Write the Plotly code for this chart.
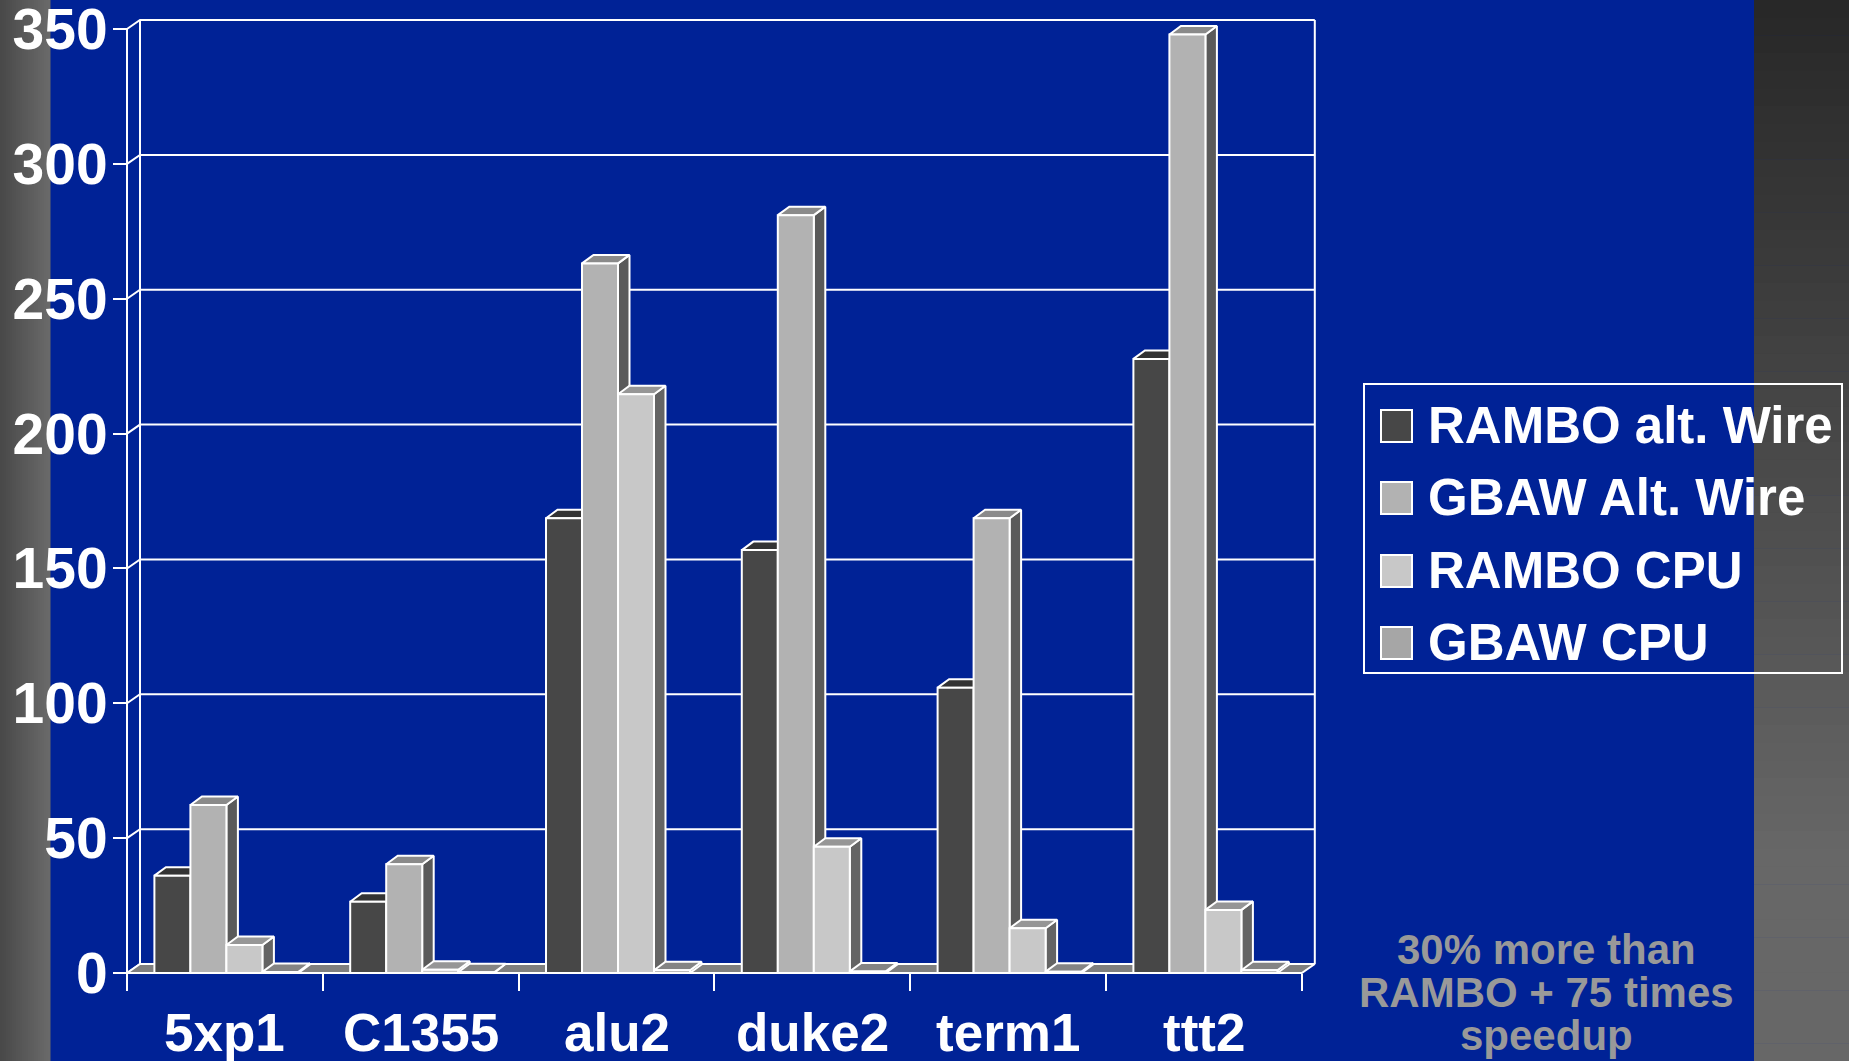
import plotly.graph_objects as go

# ---- data -------------------------------------------------------------
categories = ["5xp1", "C1355", "alu2", "duke2", "term1", "ttt2"]
series_names = ["RAMBO alt. Wire", "GBAW Alt. Wire", "RAMBO CPU", "GBAW CPU"]
rambo_alt_wire = [36.1, 26.4, 168.6, 156.8, 105.8, 227.7]
gbaw_alt_wire = [62.3, 40.3, 263.1, 281.0, 168.6, 348.0]
rambo_cpu = [10.4, 1.2, 214.6, 46.8, 16.6, 23.4]
gbaw_cpu = [0.4, 0.3, 1.0, 0.6, 0.5, 1.0]
y_ticks = [0, 50, 100, 150, 200, 250, 300, 350]
note_lines = ["30% more than", "RAMBO + 75 times", "speedup"]

series_values = [rambo_alt_wire, gbaw_alt_wire, rambo_cpu, gbaw_cpu]

# ---- styling ----------------------------------------------------------
BLUE = "#002296"
WHITE = "#ffffff"
FONT = "Liberation Sans"
front_colors = ["#474747", "#b2b2b2", "#c8c8c8", "#a6a6a6"]
top_colors = ["#333333", "#8a8a8a", "#969696", "#848484"]
side_colors = ["#2a2a2a", "#5a5a5a", "#646464", "#5c5c5c"]
floor_color = "#7f7f7f"

FIG_W, FIG_H = 1849, 1061
ML, MR, MT, MB = 117, 519, 10, 76
PX_PER_CAT = 195.8        # horizontal pixels per category slot
PX_PER_UNIT = 2.697       # vertical pixels per value unit
X_FRONT_PX = 127          # pixel column of the front value axis
Y_ZERO_PX = 973           # pixel row of the front floor edge

PAPER_W = FIG_W - ML - MR
PAPER_H = FIG_H - MT - MB

x_range = [-0.5 - (X_FRONT_PX - ML) / PX_PER_CAT,
           -0.5 + (FIG_W - MR - X_FRONT_PX) / PX_PER_CAT]
y_range = [-(FIG_H - MB - Y_ZERO_PX) / PX_PER_UNIT,
           (Y_ZERO_PX - MT) / PX_PER_UNIT]

# oblique depth of the chart box and of the bars (converted to data units)
wall_dx, wall_dy = 13 / PX_PER_CAT, 9 / PX_PER_UNIT
bar_dx, bar_dy = 11.5 / PX_PER_CAT, 8.5 / PX_PER_UNIT
bar_w = 36 / PX_PER_CAT
group_offset = -70.5 / PX_PER_CAT


def paper_x(px):
    return (px - ML) / PAPER_W


def paper_y(py):
    return (FIG_H - MB - py) / PAPER_H


n_cat = len(categories)
x_left, x_right = -0.5, n_cat - 0.5

fig = go.Figure()

# ---- box: back wall gridlines, side-wall diagonals, wall edges --------
wx, wy = [], []
for v in y_ticks:
    wx += [x_left, x_left + wall_dx, x_right + wall_dx, None]
    wy += [v, v + wall_dy, v + wall_dy, None]
top = y_ticks[-1]
wx += [x_left, x_left, None]
wy += [0, top, None]
wx += [x_left + wall_dx, x_left + wall_dx, None]
wy += [wall_dy, top + wall_dy, None]
wx += [x_right + wall_dx, x_right + wall_dx, None]
wy += [wall_dy, top + wall_dy, None]
fig.add_trace(go.Scatter(x=wx, y=wy, mode="lines",
                         line=dict(color=WHITE, width=2),
                         hoverinfo="skip", showlegend=False))

# floor
fig.add_trace(go.Scatter(
    x=[x_left, x_right, x_right + wall_dx, x_left + wall_dx, x_left],
    y=[0, 0, wall_dy, wall_dy, 0],
    mode="lines", fill="toself", fillcolor=floor_color,
    line=dict(color=WHITE, width=2), hoverinfo="skip", showlegend=False))


def face(xs, ys, color):
    fig.add_trace(go.Scatter(
        x=xs + [xs[0]], y=ys + [ys[0]], mode="lines", fill="toself",
        fillcolor=color, line=dict(color=WHITE, width=2),
        hoverinfo="skip", showlegend=False))


# ---- 3-D bars, drawn left to right so nearer faces overlap ------------
for ci in range(n_cat):
    for si, vals in enumerate(series_values):
        v = vals[ci]
        x0 = ci + group_offset + si * bar_w
        x1 = x0 + bar_w
        # right side face
        face([x1, x1 + bar_dx, x1 + bar_dx, x1],
             [0, bar_dy, v + bar_dy, v], side_colors[si])
        # top face
        face([x0, x1, x1 + bar_dx, x0 + bar_dx],
             [v, v, v + bar_dy, v + bar_dy], top_colors[si])
        # front face
        face([x0, x1, x1, x0], [0, 0, v, v], front_colors[si])

# ---- background bands, legend box ------------------------------------
shapes = []


def hex_gray(g):
    g = max(0, min(255, int(round(g))))
    return "#{0:02x}{0:02x}{0:02x}".format(g)


# left band: horizontal gradient
n_left = 25
for i in range(n_left):
    xa = 50 * i / n_left
    xb = 50 * (i + 1) / n_left
    g = 0x48 + (0x6a - 0x48) * (i + 0.5) / n_left
    shapes.append(dict(type="rect", xref="paper", yref="paper",
                       x0=paper_x(xa), x1=paper_x(xb + 0.5),
                       y0=paper_y(FIG_H), y1=paper_y(0),
                       fillcolor=hex_gray(g), line=dict(width=0),
                       layer="below"))

# right band: vertical gradient
n_right = 60
for i in range(n_right):
    ya = FIG_H * i / n_right
    yb = FIG_H * (i + 1) / n_right
    t = min(1.0, ((ya + yb) / 2) / 860)
    g = 0x27 + (0x67 - 0x27) * t
    shapes.append(dict(type="rect", xref="paper", yref="paper",
                       x0=paper_x(1754), x1=paper_x(FIG_W),
                       y0=paper_y(yb + 0.5), y1=paper_y(ya),
                       fillcolor=hex_gray(g), line=dict(width=0),
                       layer="below"))

# legend frame
shapes.append(dict(type="rect", xref="paper", yref="paper",
                   x0=paper_x(1364), x1=paper_x(1842),
                   y0=paper_y(673), y1=paper_y(384),
                   fillcolor="rgba(0,0,0,0)", line=dict(color=WHITE, width=2)))

annotations = []
row_y = [426, 498, 571, 643]
for si, name in enumerate(series_names):
    cy = row_y[si]
    shapes.append(dict(type="rect", xref="paper", yref="paper",
                       x0=paper_x(1381), x1=paper_x(1412),
                       y0=paper_y(cy + 16), y1=paper_y(cy - 16),
                       fillcolor=front_colors[si],
                       line=dict(color=WHITE, width=2)))
    annotations.append(dict(
        text=name, xref="paper", yref="paper",
        x=paper_x(1426), y=paper_y(cy - 0.5), xanchor="left", yanchor="middle",
        showarrow=False,
        font=dict(family=FONT, size=51, weight="bold", color=WHITE)))

# category labels under each group
for ci, name in enumerate(categories):
    annotations.append(dict(
        text=name, xref="x", yref="paper",
        x=ci, y=paper_y(1032), xanchor="center", yanchor="middle",
        showarrow=False,
        font=dict(family=FONT, size=53, weight="bold", color=WHITE)))

# side note
note_y = [949, 992, 1035]
for line_text, cy in zip(note_lines, note_y):
    annotations.append(dict(
        text=line_text, xref="paper", yref="paper",
        x=paper_x(1546), y=paper_y(cy), xanchor="center", yanchor="middle",
        showarrow=False,
        font=dict(family=FONT, size=42, weight="bold", color="#999999")))

axis_pos_x = paper_x(X_FRONT_PX)
axis_pos_y = paper_y(Y_ZERO_PX)

fig.update_layout(
    width=FIG_W, height=FIG_H,
    margin=dict(l=ML, r=MR, t=MT, b=MB, pad=0),
    paper_bgcolor=BLUE, plot_bgcolor="rgba(0,0,0,0)",
    showlegend=False,
    shapes=shapes, annotations=annotations,
    xaxis=dict(range=x_range, anchor="free", position=axis_pos_y,
               tickmode="array", tickvals=[i - 0.5 for i in range(n_cat + 1)],
               ticks="outside", ticklen=17, tickwidth=2, tickcolor=WHITE,
               showticklabels=False, showgrid=False, zeroline=False,
               showline=False, fixedrange=True, automargin=False),
    yaxis=dict(range=y_range, anchor="free", position=axis_pos_x,
               tickmode="array", tickvals=y_ticks,
               ticks="outside", ticklen=14, tickwidth=2, tickcolor=WHITE,
               ticklabeloverflow="allow", ticklabelstandoff=-6,
               tickfont=dict(family=FONT, size=57, weight="bold", color=WHITE),
               showgrid=False, zeroline=False, showline=False,
               fixedrange=True, automargin=False),
)

fig.write_html("out.html")
